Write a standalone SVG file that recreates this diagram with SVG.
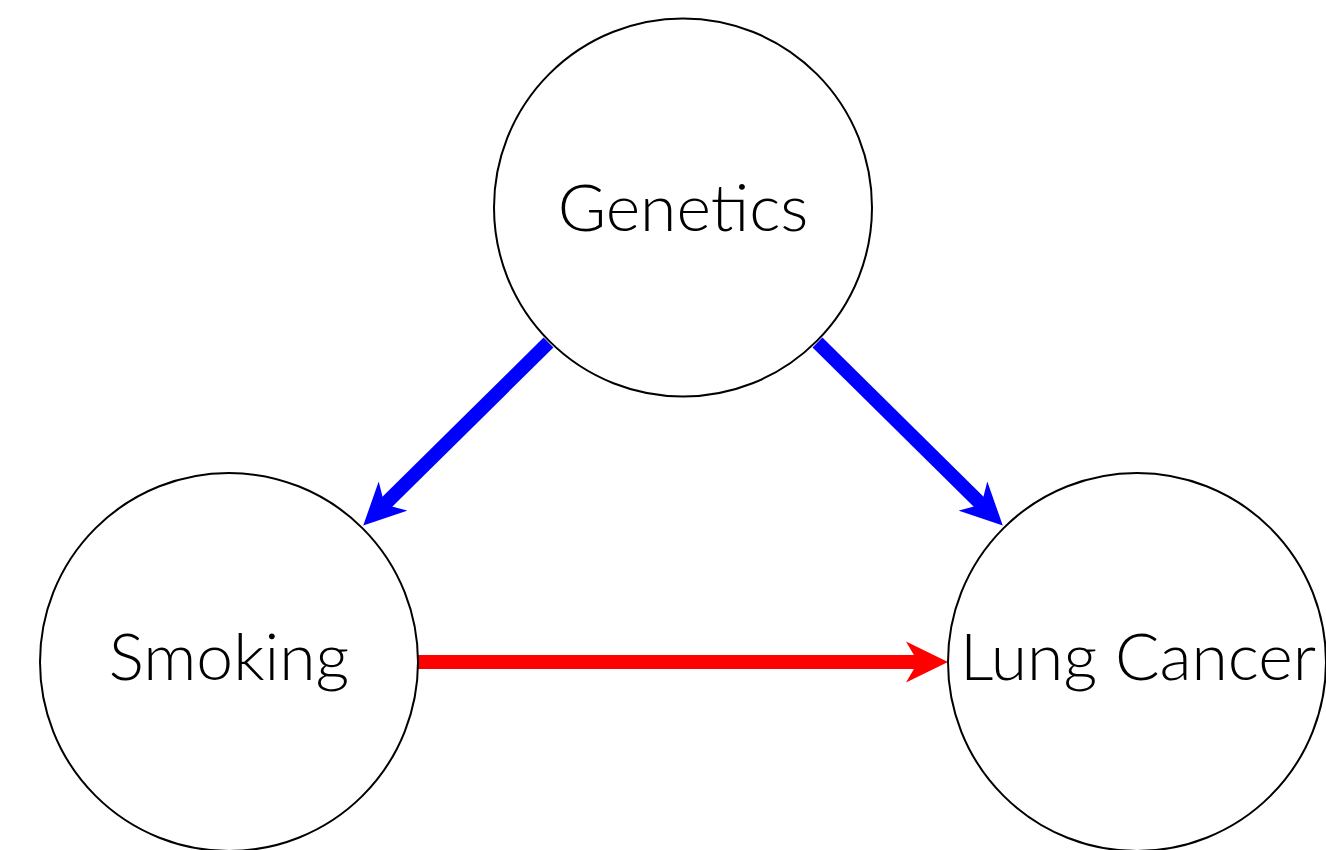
<svg xmlns="http://www.w3.org/2000/svg" width="1326" height="850" viewBox="0 0 1326 850">
<style>
.node{fill:#fff;stroke:#000;stroke-width:2}
.label{font-family:Lato,"Noto Sans",sans-serif;font-weight:300;font-size:66px;fill:#000;text-anchor:middle}
.edge{fill:none;stroke-width:14;stroke-linecap:butt}
</style>
<defs>
<marker id="ahBlue" markerUnits="userSpaceOnUse" viewBox="-17 -21 42 42" markerWidth="42" markerHeight="42" refX="0" refY="0" orient="auto">
<path d="M25,0 L-17,-20.5 L-5,0 L-17,20.5 Z" fill="#0000ff"/>
</marker>
<marker id="ahRed" markerUnits="userSpaceOnUse" viewBox="-17 -21 42 42" markerWidth="42" markerHeight="42" refX="0" refY="0" orient="auto">
<path d="M25,0 L-17,-20.5 L-5,0 L-17,20.5 Z" fill="#ff0000"/>
</marker>
</defs>
<rect width="1326" height="850" fill="#fff"/>
<g id="connectors">
<path class="edge" stroke="#0000ff" d="M548.5,342.5 L381,508" marker-end="url(#ahBlue)"/>
<path class="edge" stroke="#0000ff" d="M817.5,342.5 L985,508" marker-end="url(#ahBlue)"/>
<path class="edge" stroke="#ff0000" d="M418,662 L923,662" marker-end="url(#ahRed)"/>
</g>
<g id="node-genetics">
<circle class="node" cx="683" cy="207.5" r="189"/>
<text class="label" x="683" y="231">Genetics</text>
</g>
<g id="node-smoking">
<circle class="node" cx="229" cy="662" r="189"/>
<text class="label" x="229" y="680">Smoking</text>
</g>
<g id="node-lung-cancer">
<circle class="node" cx="1137" cy="662" r="189"/>
<text class="label" x="1138" y="680">Lung Cancer</text>
</g>
</svg>
